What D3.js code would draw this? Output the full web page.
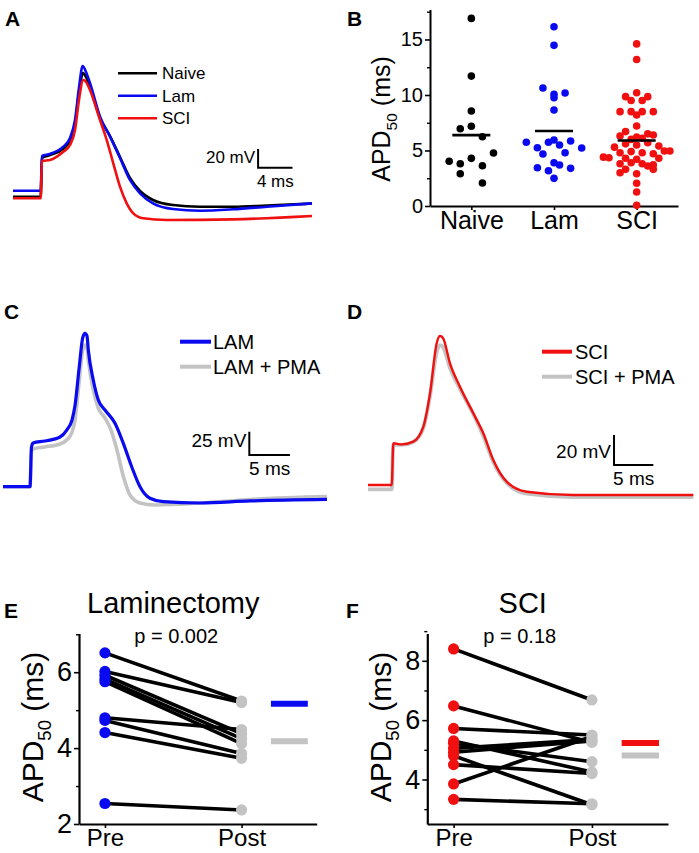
<!DOCTYPE html>
<html lang="en">
<head>
<meta charset="UTF-8">
<title>APD50 panels</title>
<script src="https://d3js.org/d3.v7.min.js"></script>
<style>
  body { margin: 0; background: #fff; }
  svg { font-family: "Liberation Sans", Arial, sans-serif; }
  .axis path, .axis line { stroke: #000; }
</style>
</head>
<body>
<script>
// ---------- data (time in ms, voltage in mV) ----------
const traceNaive = [[0,-60],[3.22,-60],[3.37,-18.6],[4.3,-15.4],[5.81,-9],[6.63,-0.4],[7.21,17.8],[7.67,50.9],[8.14,72.3],[8.49,68],[8.95,57.3],[10.12,24.2],[11.28,4.9],[12.44,-17.5],[13.6,-40],[14.77,-53.9],[16.28,-63.5],[18.6,-68.9],[21.74,-70.7],[25.58,-70.7],[29.53,-69.4],[34.77,-67.3]];
const traceLam = [[0,-53.6],[3.22,-53.6],[3.37,-16.5],[4.3,-14.3],[5.81,-6.8],[6.63,2.8],[7.21,22],[7.67,56.3],[8.1,79.8],[8.49,73.4],[8.95,61.6],[10.12,25.6],[11.28,4.2],[12.44,-18.6],[13.6,-42.1],[14.77,-56.4],[16.28,-67.1],[18.6,-73.2],[21.74,-75],[25.58,-73.5],[29.53,-70.7],[34.77,-67.1]];
const traceSci = [[0,-61.7],[3.22,-61.7],[3.37,-21.8],[4.3,-20.7],[5.81,-12.2],[6.63,-4.7],[7.21,11.3],[7.67,43.4],[8.17,64.8],[8.49,62.7],[8.95,54.1],[10.12,22],[10.9,0.6],[11.66,-24.3],[12.44,-49.3],[13.22,-67.1],[13.99,-77.8],[15.15,-83.1],[17.87,-84.9],[25.58,-84.2],[34.77,-80.6]];

const traceLamC = [[0,-60],[3.32,-60],[3.5,-17.4],[3.69,-13.1],[5.16,-11],[7,-6.7],[7.83,0.8],[8.48,11.6],[8.85,27.4],[9.37,68.8],[9.79,99.6],[10.07,104.6],[10.32,101.7],[10.48,86.7],[11.09,54.5],[11.71,33],[12.53,22.3],[13.76,8],[14.78,-13.5],[15.81,-38.6],[16.83,-60],[18.06,-72.4],[19.69,-76.1],[24.2,-77.5],[30.34,-75.3],[39.8,-73.7]];
const traceLamPmaC = [[0,-60],[3.32,-60],[3.5,-20.6],[3.69,-19.5],[5.16,-17.4],[7,-14.2],[7.83,-9.9],[8.48,-1.3],[8.85,11.6],[9.37,54.5],[9.79,86.7],[10.07,92],[10.32,88.8],[10.48,75.9],[11.09,43.8],[11.71,24.4],[12.53,13.7],[13.27,0.8],[14,-20.6],[14.74,-47.4],[15.6,-68.9],[16.83,-77.5],[18.67,-79.6],[24.2,-77.5],[30.34,-73.7],[39.8,-70.7]];

const traceSciD = [[0,-60],[3.02,-60],[3.22,-32.2],[4.29,-32.9],[5.76,-31.1],[7.04,-21.1],[7.89,1.1],[8.74,34.5],[9.16,39.3],[9.54,38],[10.43,21.1],[11.7,5.5],[13.4,-12.2],[14.67,-25.5],[15.94,-43.3],[17.65,-57.8],[20.19,-64.5],[26.12,-66.7],[41.39,-66.7]];
const traceSciPmaD = [[0,-62.9],[3.02,-62.9],[3.22,-33.3],[4.29,-33.3],[5.76,-31.3],[7.04,-22],[7.89,-0.7],[8.74,28.7],[9.16,33.3],[9.54,32],[10.43,18],[11.7,4],[13.4,-12.7],[14.67,-27.3],[15.94,-44.7],[17.65,-58.7],[20.19,-65.7],[26.12,-68],[41.39,-68]];

// panel B: [APD50 ms, swarm slot]
const groups = ["Naive", "Lam", "SCI"];
const apdNaive = [[16.9,0],[11.7,0],[8.56,0],[6.96,-2],[7.18,0],[6.24,2],[4.77,4],[4.03,-4],[3.81,-2],[4.29,0],[3.63,2],[2.91,-2],[2.07,2]];
const apdLam = [[16.15,0],[14.47,0],[10.63,-2],[10.06,0],[9.76,0],[10.18,2],[8.65,0],
  [5.74,-5],[5.25,-3],[5.74,-1],[5.95,0],[5.5,1],[5.86,3],[5.22,5],[4.68,-2],[4.8,2],
  [3.45,-3],[3.18,-1],[3.9,0],[3.69,1],[3.39,3],[2.49,0]];
const apdSci = [[14.6,0],[13.2,0],
  [10.2,0],[9.85,-2],[9.85,2],[9.5,-1],[9.5,1],
  [8.5,-3],[8.5,-1],[8.5,1],[8.5,3],[8.2,0],
  [7.2,0],
  [6.7,-2],[6.5,2],[6.4,3],[6.3,-3],[6.2,0],[6.1,1],[6.0,-1],
  [5.6,-2],[5.7,2],[5.5,0],[5.3,-4],[5.4,4],
  [4.95,5],[4.95,6],[4.9,-1],[4.8,1],[4.7,3],[4.8,-3],
  [4.4,-6],[4.35,-5],[4.3,-2],[4.3,4],[4.2,0],
  [3.9,-1],[3.8,1],[3.8,-3],[3.6,2],[3.7,3],
  [3.3,-2],[3.3,3],[3.0,-3],[2.9,0],
  [2.05,0],[1.26,0],[0.06,0]];

// panels E and F: paired APD50 (ms)
const phases = ["Pre", "Post"];
const lamPre  = [6.51, 6.02, 5.92, 5.82, 5.75, 4.80, 4.73, 4.41, 2.54];
const lamPost = [5.24, 5.20, 4.38, 4.25, 4.12, 4.49, 3.86, 3.73, 2.37];
const sciPre  = [8.40, 6.48, 5.72, 5.30, 5.22, 5.05, 4.92, 4.80, 4.50, 3.85, 3.33];
const sciPost = [6.68, 5.25, 5.50, 4.25, 4.60, 5.35, 5.30, 3.15, 4.20, 5.45, 3.18];

// ---------- drawing ----------
const BLUE = "#0a0af0", RED = "#f01010", GRAY = "#c3c3c3";
const W = 699, H = 853;
const svg = d3.select("body").append("svg").attr("width", W).attr("height", H);

function panelLetter(x, y, s) {
  svg.append("text").attr("x", x).attr("y", y).style("font-size", "21px")
    .style("font-weight", "bold").text(s);
}

function apdLabel(x, y, size) {
  const t = svg.append("text").attr("transform", `translate(${x},${y}) rotate(-90)`)
    .attr("text-anchor", "middle").style("font-size", size + "px");
  t.append("tspan").text("APD");
  t.append("tspan").attr("dy", size * 0.28).style("font-size", (size * 0.62) + "px").text("50");
  t.append("tspan").attr("dy", -size * 0.28).text(" (ms)");
}

// trace panel: scales given as ms/mV anchor points
function tracePanel(o) {
  const x = d3.scaleLinear().domain([0, 10]).range(o.xr);
  const y = d3.scaleLinear().domain([-60, 40]).range(o.yr);
  const line = d3.line().x(d => x(d[0])).y(d => y(d[1])).curve(d3.curveMonotoneX);
  const g = svg.append("g");
  o.traces.forEach(tr => {
    g.append("path").datum(tr.data).attr("d", line).attr("fill", "none")
      .attr("stroke", tr.color).attr("stroke-width", tr.w).attr("stroke-linejoin", "round");
  });
  // scale bar
  const [t0, v0] = o.bar;
  g.append("path").attr("fill", "none").attr("stroke", "#000").attr("stroke-width", 2)
    .attr("d", `M${x(t0)},${y(v0 + o.mv)}V${y(v0)}H${x(t0 + o.ms)}`);
  g.append("text").attr("x", x(t0) - 3).attr("y", y(v0) - o.mvDy).attr("text-anchor", "end")
    .style("font-size", o.fs + "px").text(o.mv + " mV");
  g.append("text").attr("x", (x(t0) + x(t0 + o.ms)) / 2).attr("y", y(v0) + o.msDy)
    .attr("text-anchor", "middle").style("font-size", o.fs + "px").text(o.ms + " ms");
  // legend
  o.legend.forEach((l, i) => {
    const ly = o.leg.y + i * o.leg.dy;
    g.append("line").attr("x1", o.leg.x1).attr("x2", o.leg.x2).attr("y1", ly).attr("y2", ly)
      .attr("stroke", l.color).attr("stroke-width", o.leg.w);
    g.append("text").attr("x", o.leg.tx).attr("y", ly).attr("dy", "0.36em")
      .style("font-size", o.leg.fs + "px").text(l.name);
  });
}

tracePanel({
  xr: [13, 99], yr: [196.7, 103.2],
  traces: [
    { data: traceNaive, color: "#000", w: 2.6 },
    { data: traceLam, color: BLUE, w: 2.6 },
    { data: traceSci, color: RED, w: 2.6 }
  ],
  bar: [28.5, -29], mv: 20, ms: 4, mvDy: 5, msDy: 19, fs: 17,
  legend: [{ name: "Naive", color: "#000" }, { name: "Lam", color: BLUE }, { name: "SCI", color: RED }],
  leg: { x1: 118, x2: 157, tx: 162, y: 73.3, dy: 22.5, w: 2.6, fs: 17 }
});

tracePanel({
  xr: [3, 84.4], yr: [486.7, 393.5],
  traces: [
    { data: traceLamPmaC, color: GRAY, w: 3.6 },
    { data: traceLamC, color: BLUE, w: 3.2 }
  ],
  bar: [30.26, -26], mv: 25, ms: 5, mvDy: 8, msDy: 20, fs: 19,
  legend: [{ name: "LAM", color: BLUE }, { name: "LAM + PMA", color: GRAY }],
  leg: { x1: 180, x2: 211, tx: 213, y: 341.7, dy: 25, w: 4, fs: 20 }
});

tracePanel({
  xr: [368, 446.6], yr: [485, 335],
  traces: [
    { data: traceSciPmaD, color: GRAY, w: 3.8 },
    { data: traceSciD, color: RED, w: 2.4 }
  ],
  bar: [31.3, -46.7], mv: 20, ms: 5, mvDy: 7, msDy: 20, fs: 19,
  legend: [{ name: "SCI", color: RED }, { name: "SCI + PMA", color: GRAY }],
  leg: { x1: 542, x2: 572, tx: 575, y: 351.7, dy: 25, w: 4, fs: 20 }
});

// ---------- panel B ----------
(function () {
  const x = d3.scaleLinear().domain([0.5, 3.5]).range([430, 678]);
  const y = d3.scaleLinear().domain([0, 17.7]).range([206, 9.5]);
  const slot = 0.067;
  const g = svg.append("g");
  const yAx = g.append("g").attr("class", "axis").attr("transform", "translate(430,0)")
    .call(d3.axisLeft(y).tickValues([0, 5, 10, 15]).tickFormat(d3.format("d"))
      .tickSize(5).tickSizeOuter(0).tickPadding(2));
  yAx.select(".domain").attr("stroke-width", 2);
  yAx.selectAll(".tick line").attr("stroke-width", 1.6);
  yAx.selectAll("text").style("font-size", "20px").attr("font-family", null);
  g.append("g").attr("class", "axis").attr("transform", "translate(430,0)")
    .call(d3.axisLeft(y).tickValues([2.5, 7.5, 12.5, 17.5]).tickSize(3).tickFormat(""))
    .call(s => s.select(".domain").remove())
    .selectAll("line").attr("stroke-width", 1.4);
  const xAx = g.append("g").attr("class", "axis").attr("transform", "translate(0,206)")
    .call(d3.axisBottom(x).tickValues([1, 2, 3]).tickFormat(i => groups[i - 1])
      .tickSize(4).tickSizeOuter(0).tickPadding(1));
  xAx.select(".domain").attr("stroke-width", 2);
  xAx.selectAll(".tick line").attr("stroke-width", 1.6);
  xAx.selectAll("text").style("font-size", "25px").attr("font-family", null);

  [[apdNaive, "#000"], [apdLam, BLUE], [apdSci, RED]].forEach(([data, col], i) => {
    g.selectAll(null).data(data).enter().append("circle")
      .attr("cx", d => x(i + 1 + d[1] * slot)).attr("cy", d => y(d[0]))
      .attr("r", 3.8).attr("fill", col);
    const m = d3.mean(data, d => d[0]);
    g.append("line").attr("x1", x(i + 1 - 0.23)).attr("x2", x(i + 1 + 0.23))
      .attr("y1", y(m)).attr("y2", y(m)).attr("stroke", "#000").attr("stroke-width", 2.6);
  });
  apdLabel(390, 119, 25);
})();

// ---------- panels E, F ----------
function pairedPanel(o) {
  const x = d3.scaleLinear().domain([-0.19, 1.55]).range(o.xr);
  const y = d3.scaleLinear().domain(o.yd).range([824, 633.5]);
  const g = svg.append("g");
  const yAx = g.append("g").attr("class", "axis").attr("transform", `translate(${o.xr[0]},0)`)
    .call(d3.axisLeft(y).tickValues(o.major).tickFormat(d3.format("d"))
      .tickSize(5).tickSizeOuter(0).tickPadding(2));
  yAx.select(".domain").attr("stroke-width", 2.2);
  yAx.selectAll(".tick line").attr("stroke-width", 1.6);
  yAx.selectAll("text").style("font-size", "27px").attr("font-family", null);
  g.append("g").attr("class", "axis").attr("transform", `translate(${o.xr[0]},0)`)
    .call(d3.axisLeft(y).tickValues(o.minor).tickSize(3).tickFormat(""))
    .call(s => s.select(".domain").remove())
    .selectAll("line").attr("stroke-width", 1.4);
  const xAx = g.append("g").attr("class", "axis").attr("transform", "translate(0,824)")
    .call(d3.axisBottom(x).tickValues([0, 1]).tickFormat(i => phases[i])
      .tickSize(4).tickSizeOuter(0).tickPadding(1));
  xAx.select(".domain").attr("stroke-width", 2.2);
  xAx.selectAll(".tick line").attr("stroke-width", 1.6);
  xAx.selectAll("text").style("font-size", "24px").attr("font-family", null);

  const pairs = o.pre.map((v, i) => [v, o.post[i]]);
  g.selectAll(null).data(pairs).enter().append("line")
    .attr("x1", x(0)).attr("x2", x(1)).attr("y1", d => y(d[0])).attr("y2", d => y(d[1]))
    .attr("stroke", "#000").attr("stroke-width", 3.6);
  g.selectAll(null).data(o.post).enter().append("circle")
    .attr("cx", x(1)).attr("cy", d => y(d)).attr("r", 5.6).attr("fill", GRAY);
  g.selectAll(null).data(o.pre).enter().append("circle")
    .attr("cx", x(0)).attr("cy", d => y(d)).attr("r", 5.6).attr("fill", o.color);
  [[o.pre, o.color], [o.post, GRAY]].forEach(([arr, col]) => {
    const m = d3.mean(arr);
    g.append("line").attr("x1", x(1.215)).attr("x2", x(1.485)).attr("y1", y(m)).attr("y2", y(m))
      .attr("stroke", col).attr("stroke-width", 6);
  });
  const cx = (x(0) + x(1)) / 2;
  g.append("text").attr("x", cx).attr("y", 612.5).attr("text-anchor", "middle")
    .style("font-size", "29px").text(o.title);
  g.append("text").attr("x", cx + o.pdx).attr("y", 642.5).attr("text-anchor", "middle")
    .style("font-size", "20px").text(o.p);
  apdLabel(o.labelX, 727, 30);
}

pairedPanel({ xr: [79, 316.7], yd: [2, 7.02], major: [2, 4, 6], minor: [3, 5, 7],
  pre: lamPre, post: lamPost, color: BLUE, title: "Laminectomy", p: "p = 0.002", pdx: 3, labelX: 43 });
pairedPanel({ xr: [427.3, 668], yd: [2.5, 8.92], major: [4, 6, 8], minor: [3, 5, 7, 9],
  pre: sciPre, post: sciPost, color: RED, title: "SCI", p: "p = 0.18", pdx: -3, labelX: 391 });

panelLetter(5, 26, "A");
panelLetter(347, 26, "B");
panelLetter(4, 319, "C");
panelLetter(347, 319, "D");
panelLetter(4, 618, "E");
panelLetter(346, 618, "F");
</script>
</body>
</html>
